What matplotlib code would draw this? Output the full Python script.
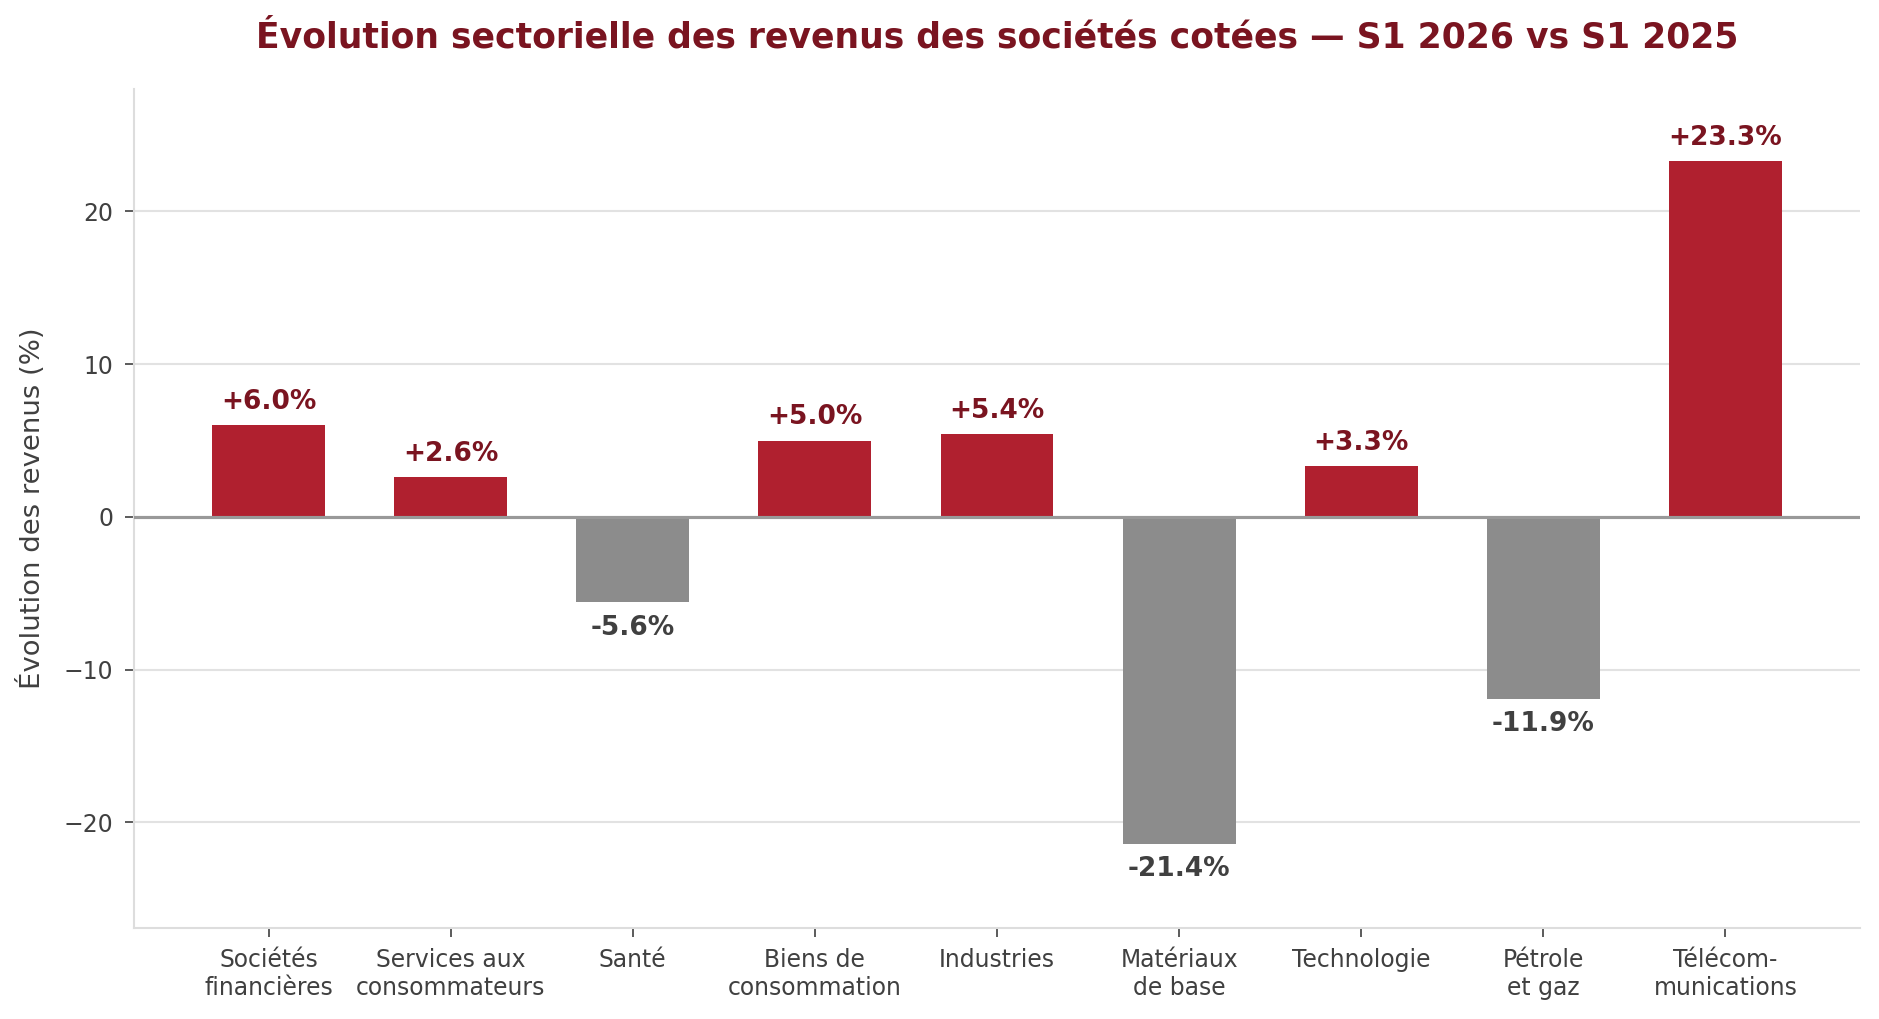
import matplotlib
matplotlib.use("Agg")
import matplotlib.pyplot as plt

categories = ["Sociétés\nfinancières", "Services aux\nconsommateurs", "Santé",
              "Biens de\nconsommation", "Industries", "Matériaux\nde base",
              "Technologie", "Pétrole\net gaz", "Télécom-\nmunications"]
values = [6.0, 2.6, -5.6, 5.0, 5.4, -21.4, 3.3, -11.9, 23.3]

title = "Évolution sectorielle des revenus des sociétés cotées — S1 2026 vs S1 2025"
ylabel = "Évolution des revenus (%)"

RED = "#B0202F"
GRAY = "#8C8C8C"
DARKRED = "#7A1420"
DARKGRAY = "#404040"

plt.rcParams['font.family'] = ['DejaVu Sans']
fig = plt.figure(figsize=(1879/150, 1019/150), dpi=150)
ax = fig.add_axes([0.0711, 0.0896, 0.9190, 0.8228])

x = list(range(len(categories)))
colors = [RED if v >= 0 else GRAY for v in values]
ax.bar(x, values, width=0.62, color=colors, zorder=3)

ax.axhline(0, color="#999999", lw=1.5, zorder=4)
ax.set_ylim(-26.9, 28.0)
ax.set_yticks([-20, -10, 0, 10, 20])
ax.grid(axis='y', color="#E2E2E2", lw=1.0, zorder=0)
ax.set_axisbelow(True)

for xi, v in zip(x, values):
    if v >= 0:
        ax.annotate(f"+{v:.1f}%", (xi, v), xytext=(0, 5.0), textcoords="offset points",
                    ha="center", va="bottom", fontsize=12.7, fontweight="bold",
                    color=DARKRED, zorder=5)
    else:
        ax.annotate(f"{v:.1f}%", (xi, v), xytext=(0, -6.0), textcoords="offset points",
                    ha="center", va="top", fontsize=12.7, fontweight="bold",
                    color=DARKGRAY, zorder=5)

ax.set_xticks(x)
ax.set_xticklabels(categories, fontsize=11.3, color=DARKGRAY)
ax.tick_params(axis='y', labelsize=11.3, labelcolor=DARKGRAY, color=DARKGRAY,
               length=4.5, pad=5.2)
ax.tick_params(axis='x', color=DARKGRAY, length=4.5, pad=5.2)
ax.set_ylabel(ylabel, fontsize=13.2, color=DARKGRAY, labelpad=8.5)

for s in ["top", "right"]:
    ax.spines[s].set_visible(False)
for s in ["left", "bottom"]:
    ax.spines[s].set_color("#DDDDDD")
    ax.spines[s].set_linewidth(1.0)

ax.set_title(title, fontsize=16.6, fontweight="bold", color=DARKRED, pad=20)

fig.savefig("out.png", dpi=150, facecolor="white")
